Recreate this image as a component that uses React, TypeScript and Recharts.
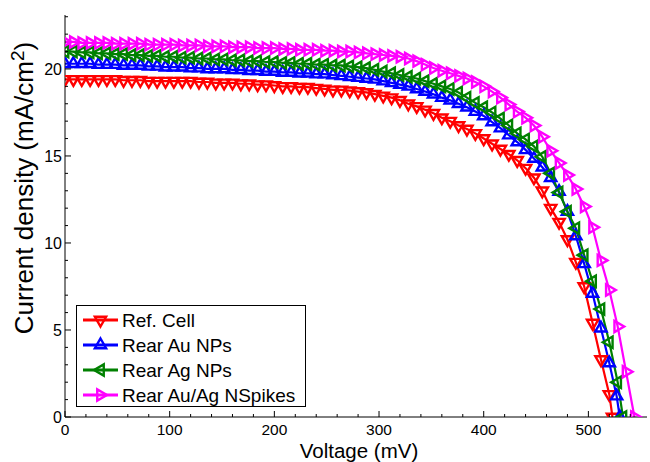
import { Label, Legend, Line, LineChart, XAxis, YAxis } from "recharts";

// voltage grid (mV) shared by all four curves up to 520 mV
const VOLTAGE = [
  0, 8, 16, 24, 32, 40, 48, 56, 64, 72, 80, 88, 96, 104, 112, 120, 128, 136, 144, 152,
  160, 168, 176, 184, 192, 200, 208, 216, 224, 232, 240, 248, 256, 264, 272, 280, 288,
  296, 304, 312, 320, 328, 336, 344, 352, 360, 368, 376, 384, 392, 400, 408, 416, 424,
  432, 440, 448, 456, 464, 472, 480, 488, 496, 504, 512, 520,
];

// current density (mA/cm2)
const REF_CELL = [
  19.4, 19.4, 19.4, 19.4, 19.4, 19.4, 19.4, 19.35, 19.35, 19.35,
  19.3, 19.3, 19.3, 19.3, 19.3, 19.3, 19.25, 19.25, 19.2, 19.2,
  19.2, 19.15, 19.15, 19.1, 19.1, 19.05, 19.0, 19.0, 18.95, 18.95,
  18.9, 18.85, 18.8, 18.8, 18.75, 18.7, 18.65, 18.55, 18.45, 18.35,
  18.2, 18.0, 17.85, 17.65, 17.45, 17.2, 17.0, 16.75, 16.55, 16.3,
  16.0, 15.7, 15.4, 15.1, 14.75, 14.3, 13.75, 13.0, 12.0, 11.2,
  10.2, 8.9, 7.5, 5.4, 3.3, 1.3,
];
const AU_NPS = [
  20.3, 20.3, 20.3, 20.3, 20.25, 20.25, 20.25, 20.2, 20.2, 20.2,
  20.15, 20.15, 20.1, 20.1, 20.1, 20.05, 20.05, 20.0, 20.0, 20.0,
  19.95, 19.95, 19.9, 19.9, 19.85, 19.85, 19.8, 19.8, 19.75, 19.75,
  19.7, 19.7, 19.65, 19.6, 19.55, 19.5, 19.45, 19.4, 19.3, 19.2,
  19.1, 19.0, 18.85, 18.7, 18.55, 18.35, 18.2, 18.0, 17.8, 17.55,
  17.3, 16.95, 16.6, 16.2, 15.8, 15.35, 14.85, 14.35, 13.75, 12.95,
  11.8, 10.4, 8.8, 7.1, 5.1, 3.1,
];
const AG_NPS = [
  21.0, 21.0, 20.95, 20.95, 20.9, 20.9, 20.85, 20.85, 20.8, 20.8,
  20.75, 20.75, 20.7, 20.7, 20.65, 20.65, 20.6, 20.6, 20.55, 20.55,
  20.5, 20.5, 20.45, 20.45, 20.4, 20.4, 20.35, 20.35, 20.3, 20.3,
  20.25, 20.25, 20.2, 20.2, 20.15, 20.1, 20.05, 19.95, 19.85, 19.75,
  19.65, 19.55, 19.45, 19.3, 19.15, 19.0, 18.85, 18.65, 18.35, 18.05,
  17.8, 17.5, 17.15, 16.75, 16.3, 15.95, 15.55, 14.95, 14.0, 12.9,
  11.8, 10.85, 9.3, 7.8, 6.2, 4.3,
];
const NSPIKES = [
  21.55, 21.55, 21.5, 21.5, 21.5, 21.5, 21.45, 21.45, 21.45, 21.45,
  21.4, 21.4, 21.4, 21.4, 21.35, 21.35, 21.35, 21.3, 21.3, 21.3,
  21.25, 21.25, 21.25, 21.2, 21.2, 21.2, 21.15, 21.15, 21.1, 21.1,
  21.1, 21.05, 21.05, 21.0, 21.0, 20.95, 20.9, 20.85, 20.8, 20.75,
  20.7, 20.6, 20.45, 20.25, 20.05, 19.9, 19.75, 19.6, 19.45, 19.25,
  19.0, 18.7, 18.35, 17.95, 17.55, 17.2, 16.75, 16.1, 15.3, 14.6,
  13.9, 13.1, 12.1, 10.9, 9.0, 7.3,
];

// last points down to open-circuit voltage
const REF_TAIL_V = [523];
const REF_TAIL_J = [0];
const AU_TAIL_V = [527, 530];
const AU_TAIL_J = [1.2, 0];
const AG_TAIL_V = [528, 533];
const AG_TAIL_J = [2.0, 0];
const NS_TAIL_V = [528, 536, 544];
const NS_TAIL_J = [5.2, 2.6, 0];

const X_TICKS = [
  0, 20, 40, 60, 80, 100, 120, 140, 160, 180, 200, 220, 240, 260, 280, 300, 320, 340,
  360, 380, 400, 420, 440, 460, 480, 500, 520, 540,
];
const Y_TICKS = [
  0, 1, 2, 3, 4, 5, 6, 7, 8, 9, 10, 11, 12, 13, 14, 15, 16, 17, 18, 19, 20, 21, 22, 23,
];

const FONT = "'Liberation Sans', Arial, sans-serif";

type Dir = "up" | "down" | "left" | "right";

const toPoints = (j: number[], tailV: number[], tailJ: number[]) => [
  ...j.map((y, i) => ({ v: VOLTAGE[i], j: y })),
  ...tailV.map((v, i) => ({ v, j: tailJ[i] })),
];

const SERIES = [
  { key: "ref", name: "Ref. Cell", color: "#ff0000", dir: "down" as Dir, data: toPoints(REF_CELL, REF_TAIL_V, REF_TAIL_J) },
  { key: "au", name: "Rear Au NPs", color: "#0000ff", dir: "up" as Dir, data: toPoints(AU_NPS, AU_TAIL_V, AU_TAIL_J) },
  { key: "ag", name: "Rear Ag NPs", color: "#008000", dir: "left" as Dir, data: toPoints(AG_NPS, AG_TAIL_V, AG_TAIL_J) },
  { key: "ns", name: "Rear Au/Ag NSpikes", color: "#ff00ff", dir: "right" as Dir, data: toPoints(NSPIKES, NS_TAIL_V, NS_TAIL_J) },
];

function Tri({ cx, cy, dir, color, r = 6.5 }: { cx: number; cy: number; dir: Dir; color: string; r?: number }) {
  const a = 0.866 * r;
  const b = 0.5 * r;
  let pts: number[][];
  if (dir === "up") pts = [[0, -r], [a, b], [-a, b]];
  else if (dir === "down") pts = [[0, r], [a, -b], [-a, -b]];
  else if (dir === "left") pts = [[-r, 0], [b, -a], [b, a]];
  else pts = [[r, 0], [-b, -a], [-b, a]];
  return (
    <polygon
      points={pts.map(([dx, dy]) => `${cx + dx},${cy + dy}`).join(" ")}
      fill="none"
      stroke={color}
      strokeWidth={2.4}
      strokeLinejoin="miter"
    />
  );
}

const BottomTick = (props: any) => {
  const { x, y, payload } = props;
  const major = payload.value % 100 === 0;
  return (
    <g>
      <line x1={x} x2={x} y1={y} y2={y - (major ? 6 : 3)} stroke="#000" />
      {major && (
        <text x={x} y={y + 18} textAnchor="middle" fontSize={15.5} fontFamily={FONT} fill="#000">
          {payload.value}
        </text>
      )}
    </g>
  );
};

const TopTick = (props: any) => {
  const { x, y, payload } = props;
  const major = payload.value % 100 === 0;
  return <line x1={x} x2={x} y1={y} y2={y + (major ? 6 : 3)} stroke="#000" />;
};

const LeftTick = (props: any) => {
  const { x, y, payload } = props;
  const major = payload.value % 5 === 0;
  return (
    <g>
      <line x1={x} x2={x + (major ? 6 : 3)} y1={y} y2={y} stroke="#000" />
      {major && (
        <text x={x - 3} y={y + 6} textAnchor="end" fontSize={16} fontFamily={FONT} fill="#000">
          {payload.value}
        </text>
      )}
    </g>
  );
};

const RightTick = (props: any) => {
  const { x, y, payload } = props;
  const major = payload.value % 5 === 0;
  return <line x1={x} x2={x - (major ? 6 : 3)} y1={y} y2={y} stroke="#000" />;
};

const renderLegend = () => (
  <svg width={230} height={102} style={{ display: "block" }}>
    <rect x={0.5} y={0.5} width={229} height={101} fill="#fff" stroke="#000" />
    {SERIES.map((s, i) => {
      const cy = 15 + i * 25;
      return (
        <g key={s.key}>
          <line x1={7} x2={42} y1={cy} y2={cy} stroke={s.color} strokeWidth={3} />
          <Tri cx={24.5} cy={cy} dir={s.dir} color={s.color} />
          <text x={46} y={cy + 7} fontSize={19} fontFamily={FONT} fill="#000">
            {s.name}
          </text>
        </g>
      );
    })}
  </svg>
);

export default function App() {
  return (
    <div style={{ width: 650, height: 462, background: "#fff" }}>
      <style>{"body{margin:0}"}</style>
      <LineChart width={650} height={462} margin={{ top: 15, right: 3, bottom: 0, left: 0 }}>
        <XAxis
          xAxisId={0}
          type="number"
          dataKey="v"
          domain={[0, 556]}
          ticks={X_TICKS}
          interval={0}
          tickSize={0}
          tickMargin={0}
          tickLine={false}
          tick={<BottomTick />}
          axisLine={{ stroke: "#000" }}
          height={45}
          allowDataOverflow
        >
          <Label
            content={({ viewBox }: any) => (
              <text
                x={viewBox.x + viewBox.width / 2 + 3}
                y={viewBox.y + 40.5}
                textAnchor="middle"
                fontSize={20.5}
                fontFamily={FONT}
                fill="#000"
              >
                Voltage (mV)
              </text>
            )}
          />
        </XAxis>
        <XAxis
          xAxisId="top"
          orientation="top"
          type="number"
          domain={[0, 556]}
          ticks={X_TICKS}
          interval={0}
          tickSize={0}
          tickMargin={0}
          tickLine={false}
          tick={<TopTick />}
          axisLine={{ stroke: "#000" }}
          height={0}
          allowDataOverflow
        />
        <YAxis
          yAxisId={0}
          type="number"
          domain={[0, 23.1]}
          ticks={Y_TICKS}
          interval={0}
          tickSize={0}
          tickMargin={0}
          tickLine={false}
          tick={<LeftTick />}
          axisLine={{ stroke: "#000" }}
          width={65}
          allowDataOverflow
        >
          <Label
            content={() => (
              <text
                transform="translate(33,188) rotate(-90)"
                textAnchor="middle"
                fontSize={26}
                fontFamily={FONT}
                fill="#000"
              >
                Current density (mA/cm
                <tspan dy={-9} fontSize={19}>2</tspan>
                <tspan dy={9}>)</tspan>
              </text>
            )}
          />
        </YAxis>
        <YAxis
          yAxisId="right"
          orientation="right"
          type="number"
          domain={[0, 23.1]}
          ticks={Y_TICKS}
          interval={0}
          tickSize={0}
          tickMargin={0}
          tickLine={false}
          tick={<RightTick />}
          axisLine={{ stroke: "#000" }}
          width={0}
          allowDataOverflow
        />
        <Legend
          layout="vertical"
          align="center"
          verticalAlign="middle"
          content={renderLegend}
          wrapperStyle={{ left: 76, top: 305, width: 230, height: 102 }}
        />
        {SERIES.map((s) => (
          <Line
            key={s.key}
            name={s.name}
            data={s.data}
            dataKey="j"
            xAxisId={0}
            yAxisId={0}
            type="linear"
            stroke={s.color}
            strokeWidth={2.2}
            isAnimationActive={false}
            dot={(p: any) => <Tri key={`${s.key}-${p.index}`} cx={p.cx} cy={p.cy} dir={s.dir} color={s.color} />}
            activeDot={false}
          />
        ))}
      </LineChart>
    </div>
  );
}
